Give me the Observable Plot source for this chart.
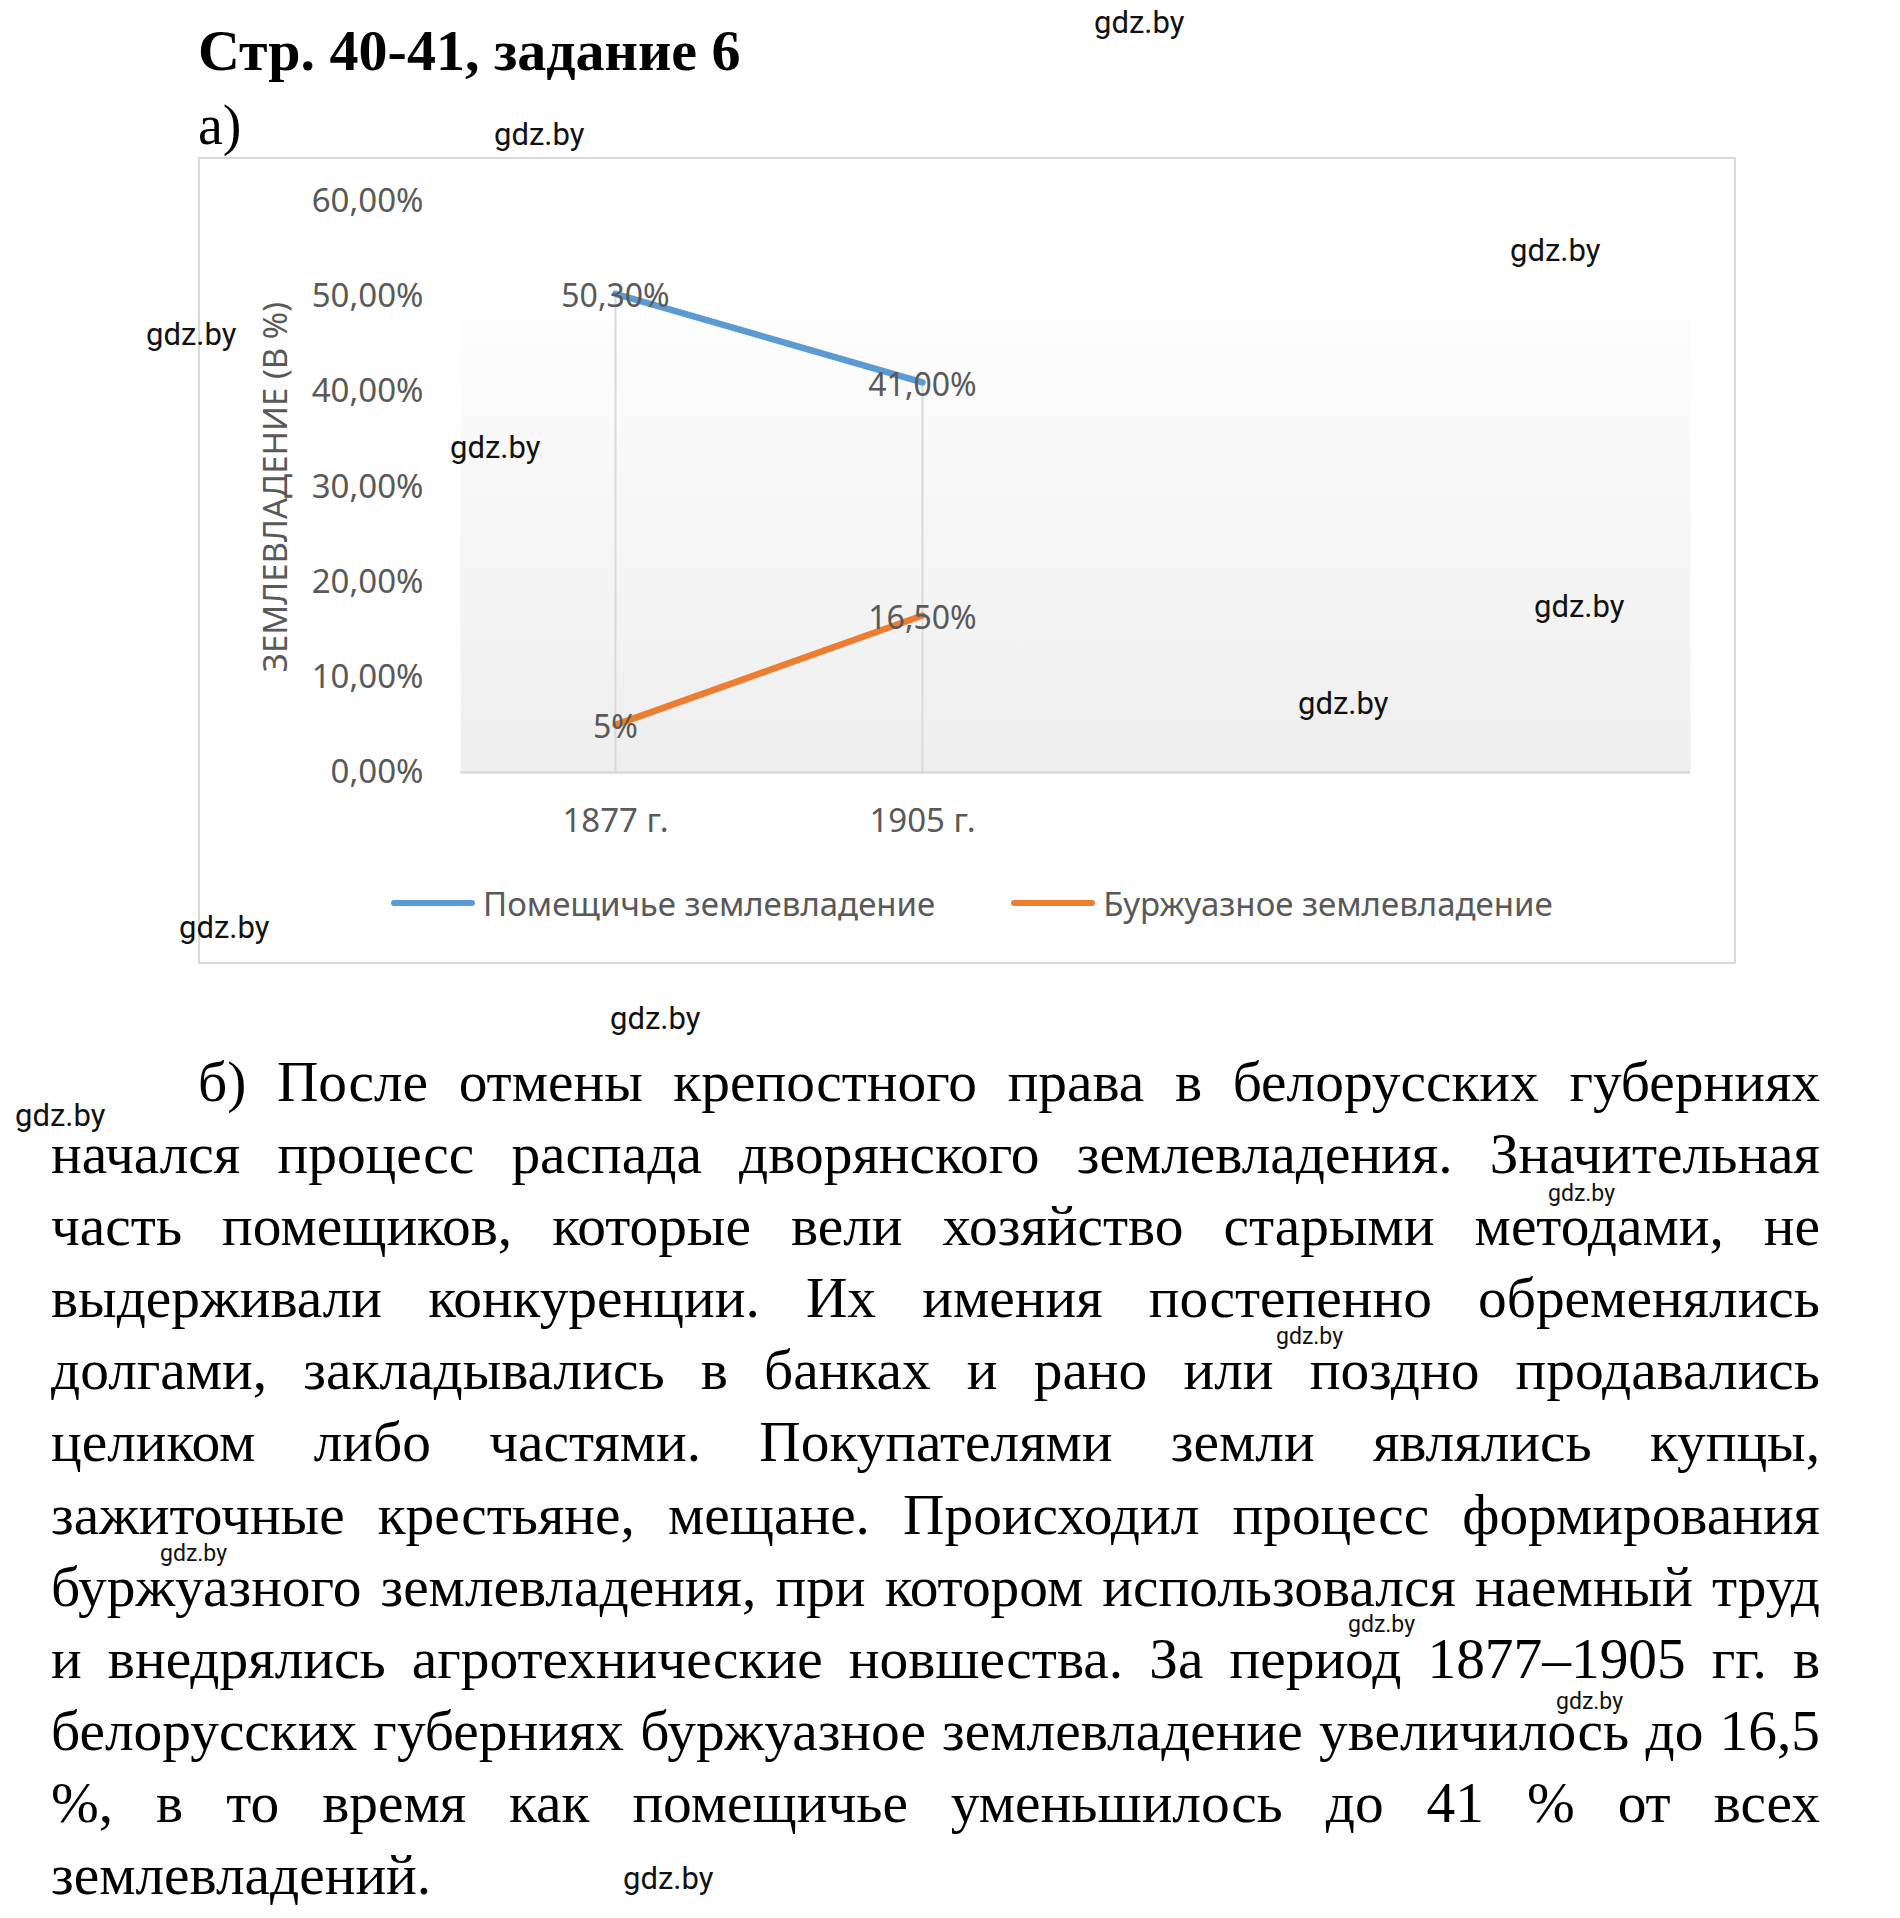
<!DOCTYPE html>
<html><head><meta charset="utf-8">
<script src="https://cdn.jsdelivr.net/npm/d3@7"></script>
<script src="https://cdn.jsdelivr.net/npm/@observablehq/plot@0.6"></script>
<style>
html,body{margin:0;padding:0;background:#fff;}
body{width:1900px;height:1918px;position:relative;overflow:hidden;}
.abs{position:absolute;white-space:nowrap;}
.title{font-family:"Liberation Serif",serif;font-weight:bold;font-size:58px;line-height:1;left:198px;top:22px;color:#000;}
.sub{font-family:"Liberation Serif",serif;font-size:56px;line-height:1;left:198px;top:97px;color:#000;}
#chartbox{position:absolute;left:198px;top:157px;width:1538px;height:807px;border:2px solid #d9d9d9;box-sizing:border-box;background:#fff;}
#chartbox svg{position:absolute;left:0;top:0;}
#legend{position:absolute;left:191px;top:724px;height:40px;display:flex;align-items:center;font-family:"Noto Sans",sans-serif;font-size:33px;color:#595959;white-space:nowrap;}
#legend .sw{width:84px;height:6.5px;border-radius:3.25px;margin-right:8px;}
#legend .item{display:flex;align-items:center;margin-right:76px;}
#para{position:absolute;left:51px;top:1046px;width:1769px;font-family:"Liberation Serif",serif;font-size:57.4px;color:#000;}
#para .ln{height:72.1px;line-height:72.1px;text-align:justify;text-align-last:justify;white-space:nowrap;}
#para .ln.last{text-align-last:left;}
#para .ln.first{padding-left:147px;}
.wm{position:absolute;font-family:Roboto,sans-serif;font-size:31px;line-height:1;color:#111;white-space:nowrap;}
.wm.s{font-size:23px;}
</style>
</head><body>
<div class="abs title">Стр. 40-41, задание 6</div>
<div class="abs sub">а)</div>
<div id="chartbox"><div id="legend"></div></div>
<div id="para"></div>
<div id="wms"></div>
<script>
// ---- chart data ----
const categories = ["1877 г.", "1905 г.", "", " "];
const years = ["1877 г.", "1905 г."];
const landlordValues = [0.503, 0.41];
const bourgeoisValues = [0.05, 0.165];
const landlordLabels = ["50,30%", "41,00%"];
const bourgeoisLabels = ["5%", "16,50%"];
const seriesNames = ["Помещичье землевладение", "Буржуазное землевладение"];
const seriesColors = ["#5B9BD5", "#ED7D31"];
const yTicks = [0, 0.1, 0.2, 0.3, 0.4, 0.5, 0.6];
const yTickLabels = ["0,00%", "10,00%", "20,00%", "30,00%", "40,00%", "50,00%", "60,00%"];
const yTitle = "ЗЕМЛЕВЛАДЕНИЕ (В %)";

// ---- page text ----
const paragraphLines = [
  "б) После отмены крепостного права в белорусских губерниях",
  "начался процесс распада дворянского землевладения. Значительная",
  "часть помещиков, которые вели хозяйство старыми методами, не",
  "выдерживали конкуренции. Их имения постепенно обременялись",
  "долгами, закладывались в банках и рано или поздно продавались",
  "целиком либо частями. Покупателями земли являлись купцы,",
  "зажиточные крестьяне, мещане. Происходил процесс формирования",
  "буржуазного землевладения, при котором использовался наемный труд",
  "и внедрялись агротехнические новшества. За период 1877–1905 гг. в",
  "белорусских губерниях буржуазное землевладение увеличилось до 16,5",
  "%, в то время как помещичье уменьшилось до 41 % от всех",
  "землевладений."
];
const watermarks = [
  [1094, 24, 0], [494, 136, 0], [1510, 252, 0], [146, 336, 0], [450, 449, 0],
  [1534, 608, 0], [1298, 705, 0], [179, 929, 0], [610, 1020, 0], [15, 1117, 0],
  [1548, 1195, 1], [1276, 1338, 1], [160, 1555, 1], [1348, 1626, 1], [1556, 1703, 1],
  [623, 1880, 0]
];

const rows = [];
years.forEach((yr, i) => {
  rows.push({series: seriesNames[0], year: yr, value: landlordValues[i], label: landlordLabels[i]});
  rows.push({series: seriesNames[1], year: yr, value: bourgeoisValues[i], label: bourgeoisLabels[i]});
});
const drops = years.map((yr, i) => ({year: yr, top: Math.max(landlordValues[i], bourgeoisValues[i])}));

const chart = Plot.plot({
  width: 1534, height: 700,
  marginLeft: 260, marginRight: 44, marginTop: 42, marginBottom: 87,
  style: {fontFamily: "'Noto Sans', sans-serif", fontSize: "33px", color: "#595959", background: "transparent", overflow: "visible"},
  x: {type: "point", domain: categories, padding: 0.5, tickSize: 0, tickPadding: 36, label: null},
  y: {domain: [0, 0.6], ticks: yTicks, tickFormat: d => yTickLabels[yTicks.indexOf(d)], tickSize: 0, tickPadding: 37, label: null},
  color: {domain: seriesNames, range: seriesColors},
  marks: [
    Plot.frame({fill: "#efefef", stroke: "none"}),
    Plot.ruleX(drops, {x: "year", y1: 0, y2: "top", stroke: "#d9d9d9", strokeWidth: 2}),
    Plot.ruleY([0], {stroke: "#d9d9d9", strokeWidth: 2.5}),
    Plot.line(rows, {x: "year", y: "value", z: "series", stroke: "series", strokeWidth: 6.5, strokeLinecap: "round", strokeLinejoin: "round"}),
    Plot.text(rows, {x: "year", y: "value", text: "label", dy: 3, fill: "#595959", fontSize: 32}),
    Plot.text([yTitle], {frameAnchor: "left", textAnchor: "middle", lineAnchor: "middle", rotate: -90, dx: -184, fill: "#595959", fontSize: 33})
  ]
});

// gradient plot-area fill
const svg = d3.select(chart);
const grad = svg.insert("defs", ":first-child").append("linearGradient")
  .attr("id", "plotbg").attr("x1", 0).attr("y1", 0).attr("x2", 0).attr("y2", 1);
[[0, "#ffffff", 0], [0.205, "#ffffff", 0], [0.207, "#fdfdfd", 1], [1, "#eeeeee", 1]].forEach(([o, c, op]) =>
  grad.append("stop").attr("offset", o).attr("stop-color", c).attr("stop-opacity", op));
let f = chart.querySelector('[aria-label="frame"]');
if (f) { const r = f.tagName.toLowerCase() === "rect" ? f : f.querySelector("rect"); if (r) r.setAttribute("fill", "url(#plotbg)"); }

const box = document.getElementById("chartbox");
box.insertBefore(chart, box.firstChild);

// legend
const legend = document.getElementById("legend");
seriesNames.forEach((name, i) => {
  const it = document.createElement("div"); it.className = "item";
  const sw = document.createElement("div"); sw.className = "sw"; sw.style.background = seriesColors[i];
  const tx = document.createElement("span"); tx.textContent = name;
  it.appendChild(sw); it.appendChild(tx); legend.appendChild(it);
});

// paragraph
const para = document.getElementById("para");
paragraphLines.forEach((t, i) => {
  const d = document.createElement("div");
  d.className = "ln" + (i === 0 ? " first" : "") + (i === paragraphLines.length - 1 ? " last" : "");
  d.textContent = t; para.appendChild(d);
});

// watermarks
const wms = document.getElementById("wms");
watermarks.forEach(([x, cy, small]) => {
  const d = document.createElement("div");
  d.className = "wm" + (small ? " s" : "");
  d.textContent = "gdz.by";
  d.style.left = x + "px";
  d.style.top = (cy - (small ? 13 : 17)) + "px";
  wms.appendChild(d);
});
</script>
</body></html>
